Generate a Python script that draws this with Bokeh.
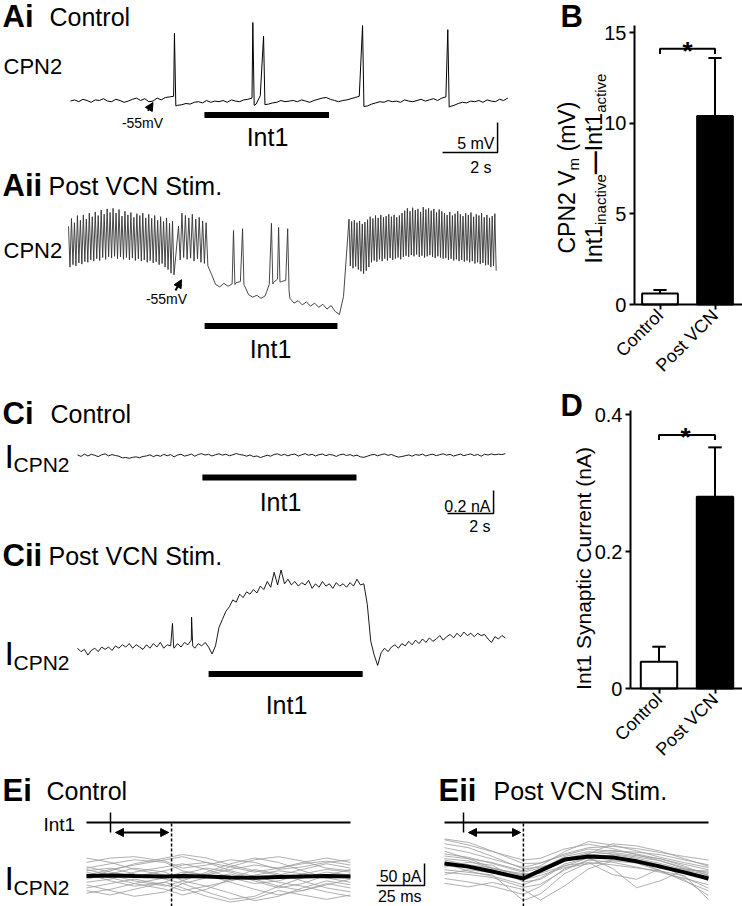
import numpy as np
from math import pi
from bokeh.plotting import figure
from bokeh.models import Range1d, LinearAxis, FixedTicker, Arrow, NormalHead, NumeralTickFormatter
from bokeh.core.properties import value
from bokeh.embed import file_html
from bokeh.resources import INLINE

# ======================= DATA =======================
# --- Ai: CPN2 membrane potential, control (mV), grid every 0.15 s
ai_t0, ai_dt = 0.0, 0.15
ai_base = [
    -55.1, -54.9, -55.2, -54.8, -55.0, -55.3, -54.9,
    -55.0, -54.7, -55.1, -55.2, -54.8, -55.0, -55.3, -55.1,
    -54.8, -54.6, -55.0, -54.7, -55.2,
    -55.1, -54.6, -54.9, -54.5, -54.4,
    -54.3,
    -55.8, -55.7, -55.5, -55.6, -55.3,
    -55.2, -55.4, -55.0, -55.3, -55.1, -55.2,
    -55.0, -55.3, -54.9, -55.1, -55.2, -54.9, -54.8,
    -54.6,
    -55.6, -54.2,
    -54.0,
    -55.6, -55.4, -55.3, -55.0, -55.2, -55.1,
    -55.0, -55.2, -54.9, -55.1, -55.3, -55.0, -54.8,
    -54.6, -54.5, -54.8, -55.0, -55.2, -55.0,
    -54.9, -54.7, -54.5, -54.3,
    -54.2,
    -55.9, -55.6, -55.4, -55.2, -55.3, -55.0,
    -55.2, -55.1, -55.3, -54.9, -55.1, -55.2, -55.0,
    -54.8, -55.1, -54.9, -54.7, -55.0, -54.6, -54.4,
    -56.0, -55.8, -55.5, -55.3, -55.4, -55.1,
    -55.2, -55.0, -55.3, -54.9, -55.1, -55.2, -54.8, -55.0, -54.6,
]
ai_spike_t = [3.78, 6.63, 7.02, 10.62, 13.72]
ai_spike_peak = [-43.8, -42.0, -44.3, -42.5, -43.2]
ai_spike_ahp = [-55.9, -55.8, -55.7, -56.0, -56.1]

# --- Aii: CPN2 membrane potential after VCN stimulation (mV)
aii_b1_span = (0.0, 3.89)
aii_b1_peaks = [-46.8, -45.5, -46.2, -45.0, -45.8, -44.9, -45.6, -44.6, -45.2, -44.4, -45.0, -44.1,
                -44.8, -43.9, -44.5, -43.8, -44.6, -44.0, -45.1, -44.3, -44.9, -44.5, -45.3, -44.7,
                -45.0, -44.6, -45.4, -44.8, -45.5, -45.0, -45.8, -45.2, -46.0, -45.4, -46.3, -45.9]
aii_b1_troughs = [-53.6, -53.2, -53.4, -52.9, -53.1, -52.7, -52.8, -52.4, -52.6, -52.2, -52.5, -52.0,
                  -52.3, -51.9, -52.1, -51.8, -52.2, -51.9, -52.3, -52.0, -52.4, -52.1, -52.5, -52.2,
                  -52.6, -52.4, -52.8, -52.5, -52.9, -52.7, -53.2, -53.0, -53.6, -54.0, -54.6, -54.9]
aii_b2_span = (4.0, 5.13)
aii_b2_peaks = [-46.8, -44.6, -45.0, -45.4, -44.8, -45.6, -45.3, -45.9, -46.2]
aii_b2_troughs = [-52.4, -52.0, -52.3, -52.1, -52.6, -52.2, -52.8, -53.0, -53.4]
aii_q_t0, aii_q_dt = 5.2, 0.15
aii_q_vals = [-54.8, -56.5, -56.9, -56.3, -56.8, -56.4, -56.2, -56.0, -56.7, -58.2, -58.6,
              -58.3, -58.8, -58.4, -56.5, -56.2, -55.6, -56.0, -55.8, -58.8, -59.6, -59.2,
              -59.9, -59.4, -60.1, -59.6, -60.3, -59.8, -60.6, -60.0, -61.0, -61.5, -58.5]
aii_q_spike_t = [6.0, 6.33, 7.38, 7.64, 7.97]
aii_q_spike_peak = [-47.5, -47.2, -46.3, -47.0, -47.2]
aii_q_spike_ahp = [-56.5, -56.6, -56.4, -56.1, -57.5]
aii_b3_span = (10.2, 15.6)
aii_b3_peaks = [-45.6, -46.0, -45.8, -46.2, -45.9, -46.4, -46.1, -45.7,
                -45.2, -45.5, -45.0, -45.4, -44.9, -45.3, -45.1, -44.8, -45.2, -44.9, -45.3, -45.0,
                -44.6, -44.2, -43.8, -44.3, -43.7, -44.1, -43.9, -44.4, -43.6, -44.0, -43.8, -44.2,
                -43.9, -44.5, -44.0, -44.3,
                -44.6, -44.9, -44.4, -45.0, -44.7, -44.3, -44.8, -45.1, -44.6, -44.9, -44.5, -45.2,
                -44.8, -45.0, -44.6, -45.3, -44.9, -45.4, -45.1, -44.7]
aii_b3_troughs = [-53.4, -53.8, -53.5, -54.0, -54.3, -54.7, -54.2, -53.6,
                  -52.8, -52.5, -52.7, -52.3, -52.6, -52.2, -52.5, -52.1, -52.4, -52.2, -52.0, -52.3,
                  -51.9, -51.7, -51.9, -51.6, -51.8, -51.5, -51.9, -51.7, -52.0, -51.8, -51.6, -51.9,
                  -52.1, -51.8, -52.0, -52.2,
                  -52.1, -52.4, -52.2, -52.5, -52.3, -52.6, -52.4, -52.7, -52.5, -52.8, -52.6, -53.0,
                  -52.8, -53.1, -52.9, -53.3, -53.2, -53.6, -53.4, -54.2]

# Int1 active periods (s)
int1_ai = (4.87, 9.40)
int1_aii = (4.95, 9.78)
int1_ci = (5.43, 12.13)
int1_cii = (5.70, 12.40)

# --- Ci: CPN2 current, control (nA), grid every 0.15 s
ci_t0, ci_dt = 0.0, 0.15
ci_vals = [0.005, -0.008, 0.012, -0.004, 0.010, 0.002, -0.010, 0.006, 0.014, -0.003, 0.008, 0.000,
           -0.006, -0.020, -0.018, -0.024, -0.016, -0.012, -0.019, -0.008, -0.004, 0.006, -0.010, 0.003,
           -0.007, 0.010, -0.002, 0.008, -0.012, 0.004, 0.011, -0.005, 0.002, 0.013, -0.006, 0.009,
           0.016, 0.004, 0.010, -0.004, 0.007, 0.015, 0.003, 0.011, -0.002, 0.006, 0.017, 0.008,
           0.004, -0.006, 0.005, -0.010, -0.004, -0.018, -0.008, 0.002, -0.006, 0.009, 0.014, 0.001,
           0.010, -0.003, 0.008, 0.012, -0.005, 0.006, 0.016, 0.002, 0.010, -0.004, 0.007, 0.013,
           -0.002, 0.009, 0.004, -0.008, 0.006, 0.012, 0.000, 0.008, -0.005, 0.003, -0.012, -0.016,
           -0.006, 0.004, 0.010, -0.003, 0.007, 0.014, 0.001, 0.009, -0.004, -0.014, -0.009, -0.002,
           0.005, -0.006, 0.008, 0.002, 0.012, -0.004, 0.006, 0.011, -0.001, 0.007, 0.015, 0.003,
           0.010, -0.005, 0.004, 0.012, -0.002, 0.008, 0.013, 0.000, 0.009, -0.006, 0.011, 0.004,
           0.014, 0.006, 0.012, 0.008, 0.016]

# --- Cii: CPN2 current after VCN stimulation (nA)
cii_t0, cii_dt = 0.0, 0.15
cii_vals = [0.02, -0.01, 0.01, -0.04, 0.00, 0.02, -0.01, 0.03, 0.01, 0.03, 0.00, 0.04,
            0.02, 0.05, 0.03, 0.06, 0.02, 0.05, 0.03, 0.01, 0.05, 0.02, 0.06, 0.03,
            0.07, 0.02, 0.05, 0.04, 0.02, 0.06, 0.03, 0.07, 0.05, 0.09, 0.02, 0.06,
            0.04, 0.07, 0.03, -0.03, 0.04, 0.20, 0.27, 0.34, 0.38, 0.44, 0.42, 0.49,
            0.46, 0.51, 0.49, 0.53, 0.50, 0.56, 0.53, 0.60, 0.55, 0.68, 0.57, 0.70,
            0.58, 0.62, 0.57, 0.60, 0.56, 0.59, 0.57, 0.61, 0.54, 0.58, 0.55, 0.60,
            0.56, 0.58, 0.54, 0.59, 0.56, 0.58, 0.55, 0.59, 0.56, 0.62, 0.57, 0.58,
            0.40, 0.08, -0.04, -0.13, -0.02, 0.02, -0.01, 0.03, 0.05, 0.02, 0.06, 0.04,
            0.08, 0.05, 0.09, 0.06, 0.10, 0.07, 0.11, 0.08, 0.10, 0.13, 0.09, 0.12,
            0.14, 0.11, 0.15, 0.12, 0.16, 0.13, 0.15, 0.12, 0.15, 0.13, 0.14, 0.10,
            0.07, 0.12, 0.10, 0.13, 0.11]
cii_spike_t = [4.13, 4.96]
cii_spike_peak = [0.235, 0.29]
cii_spike_after = [0.03, 0.04]

# --- B: CPN2 Vm difference (mV)
bar_groups = ["Control", "Post VCN"]
b_mean = [0.6, 10.4]
b_sem = [0.2, 3.2]
b_sig = 14.1
b_ticks = [0, 5, 10, 15]

# --- D: Int1 synaptic current (nA)
d_mean = [0.039, 0.28]
d_sem = [0.022, 0.072]
d_sig = 0.37
d_ticks = [0, 0.2, 0.4]

# --- E: Int1-spike-triggered sweeps (pA) at times (ms)
e_t = [0, 12.5, 25, 41, 50, 62.5, 75, 87.5, 100, 112.5, 125, 137.5]
ei_int1_t, ei_resp_t = 12.5, 44.3
eii_int1_t, eii_resp_t = 9.9, 41.1
ei_mean = [1, 2, 1, 0, 1, 0, -2, -3, -1, 0, 1, 0]
ei_sweeps = [
    [19, 29, 38, 32, 13, 3, 16, 26, 19, 29, 35, 26],
    [-13, -6, 10, 22, 29, 16, -3, -16, -10, 6, 16, 10],
    [32, 42, 45, 35, 19, 26, 38, 32, 16, 22, 32, 38],
    [-26, -16, -6, -19, -32, -22, -10, 3, 13, 6, -3, -13],
    [6, -10, -22, -13, 6, 19, 10, -6, -22, -32, -19, -6],
    [13, 19, 6, -6, -16, -35, -52, -45, -22, -3, 10, 3],
    [-38, -29, -16, -3, 10, 3, -13, -29, -42, -32, -16, -26],
    [22, 10, 0, 13, 26, 32, 22, 10, 19, 32, 42, 32],
    [-6, 6, 19, 10, -10, -22, -38, -55, -45, -26, -10, -19],
    [42, 32, 16, 3, -6, 6, 22, 38, 45, 35, 19, 13],
    [-19, -32, -45, -35, -16, -3, 6, -10, -26, -16, 3, 16],
    [3, 16, 26, 38, 45, 32, 13, 0, -13, -22, -35, -45],
    [-32, -42, -29, -13, -26, -45, -58, -50, -32, -42, -52, -42],
    [16, 3, -10, -22, -10, 10, 29, 42, 32, 13, -3, 6],
    [-3, 13, 29, 42, 50, 42, 26, 13, 3, 16, 29, 19],
    [10, -3, -16, -29, -42, -29, -6, 16, 6, -10, -26, -35],
]
eii_mean = [34, 27, 16, 0, 18, 43, 50, 48, 39, 27, 14, 0]
eii_sweeps = [
    [70, 59, 44, 25, 35, 56, 70, 73, 68, 59, 50, 42],
    [14, 9, 2, -20, -13, 19, 42, 37, 26, 14, 0, -14],
    [90, 82, 62, 34, 35, 53, 67, 62, 60, 54, 42, 31],
    [42, 31, 24, 6, 21, 50, 61, 56, 49, 40, 25, 11],
    [0, -8, -18, -36, -18, 22, 42, 51, 40, 17, -6, -28],
    [56, 48, 34, 14, 24, 45, 58, 64, 56, 44, 32, 20],
    [26, 37, 30, -8, -2, 30, 36, 9, -2, 23, 22, -6],
    [79, 70, 50, 22, 26, 39, 56, 79, 74, 62, 45, 28],
    [-11, -19, -9, -25, -49, -17, 22, 40, 35, 17, -3, -39],
    [51, 45, 36, 17, 29, 61, 84, 76, 63, 48, 36, 25],
    [34, 17, 5, -14, 1, 33, 47, 23, -21, -5, 20, 8],
    [88, 76, 61, 42, 46, 67, 78, 68, 54, 40, 22, 14],
    [9, 20, 13, -3, 7, 25, 33, 42, 43, 31, 3, -22],
    [62, 45, 24, 8, 15, 39, 53, 59, 52, 45, 28, 6],
    [20, 14, 8, -50, -35, 11, 36, 31, 24, 17, 6, -48],
    [45, 40, 22, 11, 12, 28, 47, 54, 46, 34, 20, 17],
]

# scale bars
sb_A = dict(t=15.53, v=-63.67, dt=2.0, dv=5.0)      # 2 s, 5 mV
sb_C = dict(t=18.09, v=-0.504, dt=2.0, dv=0.2)      # 2 s, 0.2 nA
sb_E = dict(t=-10.4, v=-15.9, dt=25.0, dv=50.0)     # 25 ms, 50 pA


# ======================= HELPERS =======================
def with_spikes(t0, dt, vals, spk_t, spk_peak, spk_after):
    pts = []
    for i, v in enumerate(vals):
        t = t0 + dt * i
        if any(s <= t <= s + 0.06 for s in spk_t):
            continue
        pts.append((t, v))
    for s, pk, af in zip(spk_t, spk_peak, spk_after):
        pts += [(s, pk), (s + 0.05, af)]
    pts.sort()
    return [q[0] for q in pts], [q[1] for q in pts]


def burst(span, peaks, troughs):
    t0, t1 = span
    isi = (t1 - t0) / len(peaks)
    ts, vs = [], []
    for k, (pk, tr) in enumerate(zip(peaks, troughs)):
        ts += [t0 + k * isi, t0 + (k + 0.5) * isi]
        vs += [pk, tr]
    return ts, vs


W, H = 742, 906
FONT = "Liberation Sans"


def xr(px0, ppu, v0=0.0):
    return Range1d(start=v0 - px0 / ppu, end=v0 + (W - px0) / ppu)


def yr(py0, ppu, v0=0.0):
    return Range1d(start=v0 - (H - py0) / ppu, end=v0 + py0 / ppu)


p = figure(width=W, height=H, x_range=Range1d(0, W), y_range=Range1d(H, 0),
           x_axis_type=None, y_axis_type=None, output_backend="svg",
           toolbar_location=None, min_border=0, outline_line_color=None,
           background_fill_color="white", border_fill_color="white")

p.extra_x_ranges = {
    "tA1": xr(70, 27.5), "tA2": xr(68, 27.5),
    "tC1": xr(77, 23.0), "tC2": xr(77, 23.0),
    "tE1": xr(86, 1.92), "tE2": xr(444, 1.92),
    "xB": xr(659.5, 55.0, 1.0), "xD": xr(658.5, 56.0, 1.0),
}
p.extra_y_ranges = {
    "vA1": yr(100, 6.0, -55.0), "vA2": yr(275, 6.0, -55.0),
    "iC1": yr(455, 115.0), "iC2": yr(650, 115.0),
    "pE1": yr(876, 0.44), "pE2": yr(878, 0.44),
    "yB": yr(304, 18.13), "yD": yr(688, 685.0),
}


def txt(x, y, s, size, bold=False, align="left", angle=0.0):
    # compensate the renderer's downward baseline drift of texts
    shift = 0.2 * size + 2
    if angle == 0:
        y = y - shift
    else:
        x = x - shift
    p.text(x=[x], y=[y], text=[s], text_font=value(FONT), text_font_size=f"{size}px",
           text_font_style="bold" if bold else "normal", text_align=align,
           text_baseline="alphabetic", angle=angle, text_color="black")


# ======================= PANEL A =======================
t, v = with_spikes(ai_t0, ai_dt, ai_base, ai_spike_t, ai_spike_peak, ai_spike_ahp)
p.line(t, v, x_range_name="tA1", y_range_name="vA1", line_color="black", line_width=1)

pts = []
for seg in (burst(aii_b1_span, aii_b1_peaks, aii_b1_troughs),
            burst(aii_b2_span, aii_b2_peaks, aii_b2_troughs),
            with_spikes(aii_q_t0, aii_q_dt, aii_q_vals, aii_q_spike_t, aii_q_spike_peak, aii_q_spike_ahp),
            burst(aii_b3_span, aii_b3_peaks, aii_b3_troughs)):
    pts += list(zip(*seg))
pts.sort()
p.line([q[0] for q in pts], [q[1] for q in pts], x_range_name="tA2", y_range_name="vA2",
       line_color="#333333", line_width=0.9)

# Int1 bars
p.segment(x0=[int1_ai[0]], x1=[int1_ai[1]], y0=[114.5], y1=[114.5], x_range_name="tA1",
          line_color="black", line_width=6, line_cap="butt")
p.segment(x0=[int1_aii[0]], x1=[int1_aii[1]], y0=[325.5], y1=[325.5], x_range_name="tA2",
          line_color="black", line_width=6, line_cap="butt")

# scale bar A
p.line([sb_A["t"] - sb_A["dt"], sb_A["t"], sb_A["t"]], [sb_A["v"], sb_A["v"], sb_A["v"] + sb_A["dv"]],
       x_range_name="tA1", y_range_name="vA1", line_color="black", line_width=1.5)

# -55 mV arrows
p.add_layout(Arrow(end=NormalHead(size=8, fill_color="black", line_color="black"),
                   x_start=2.82, y_start=-56.7, x_end=3.0, y_end=-55.35,
                   x_range_name="tA1", y_range_name="vA1", line_width=2))
p.add_layout(Arrow(end=NormalHead(size=8, fill_color="black", line_color="black"),
                   x_start=3.89, y_start=-57.5, x_end=4.11, y_end=-55.7,
                   x_range_name="tA2", y_range_name="vA2", line_width=2))

txt(2, 24, "Ai", 31, bold=True)
txt(49, 23, "Control", 25)
txt(3, 72, "CPN2", 22)
txt(142, 127, "-55mV", 14, align="center")
txt(267, 143, "Int1", 25, align="center")
txt(494, 148, "5 mV", 16, align="right")
txt(491, 172, "2 s", 16, align="right")

txt(2, 193, "Aii", 31, bold=True)
txt(48, 192, "Post VCN Stim.", 25)
txt(3, 256, "CPN2", 22)
txt(166, 303, "-55mV", 14, align="center")
txt(270, 355, "Int1", 25, align="center")

# ======================= PANEL C =======================
ct = [ci_t0 + ci_dt * i for i in range(len(ci_vals))]
p.line(ct, ci_vals, x_range_name="tC1", y_range_name="iC1", line_color="black", line_width=0.9)
t, v = with_spikes(cii_t0, cii_dt, cii_vals, cii_spike_t, cii_spike_peak, cii_spike_after)
p.line(t, v, x_range_name="tC2", y_range_name="iC2", line_color="black", line_width=0.9)

p.segment(x0=[int1_ci[0]], x1=[int1_ci[1]], y0=[477], y1=[477], x_range_name="tC1",
          line_color="black", line_width=6, line_cap="butt")
p.segment(x0=[int1_cii[0]], x1=[int1_cii[1]], y0=[673.5], y1=[673.5], x_range_name="tC2",
          line_color="black", line_width=6, line_cap="butt")

p.line([sb_C["t"] - sb_C["dt"], sb_C["t"], sb_C["t"]], [sb_C["v"], sb_C["v"], sb_C["v"] + sb_C["dv"]],
       x_range_name="tC1", y_range_name="iC1", line_color="black", line_width=1.5)

txt(2, 421, "Ci", 31, bold=True)
txt(50, 420, "Control", 25)
txt(4, 464, "I", 34)
txt(13, 470, "CPN2", 21)
txt(280, 508, "Int1", 25, align="center")
txt(490, 511, "0.2 nA", 16, align="right")
txt(490, 531, "2 s", 16, align="right")

txt(2, 563, "Cii", 31, bold=True)
txt(48, 562, "Post VCN Stim.", 25)
txt(4, 661, "I", 34)
txt(13, 668, "CPN2", 21)
txt(286, 711, "Int1", 25, align="center")

# ======================= PANELS B & D =======================
bx = [1, 2]
fills = ["white", "black"]
for key, mean, sem, sig, ticks, axloc, top, fmt in (
        ("B", b_mean, b_sem, b_sig, b_ticks, 0.536, 15.4, None),
        ("D", d_mean, d_sem, d_sig, d_ticks, 0.49, 0.406, NumeralTickFormatter(format="0.[0]"))):
    xn, yn = "x" + key, "y" + key
    p.vbar(x=bx, top=mean, bottom=0, width=0.65, fill_color=fills, line_color="black",
           line_width=2, x_range_name=xn, y_range_name=yn)
    tops = [m + s for m, s in zip(mean, sem)]
    p.segment(x0=bx, x1=bx, y0=mean, y1=tops, x_range_name=xn, y_range_name=yn,
              line_color="black", line_width=2)
    p.segment(x0=[b - 0.12 for b in bx], x1=[b + 0.12 for b in bx], y0=tops, y1=tops,
              x_range_name=xn, y_range_name=yn, line_color="black", line_width=2)
    drop = sig * 0.02
    p.line([1, 1, 2, 2], [sig - drop, sig, sig, sig - drop], x_range_name=xn, y_range_name=yn,
           line_color="black", line_width=2)
    yax = LinearAxis(x_range_name=xn, y_range_name=yn, fixed_location=axloc, bounds=(0, top),
                     ticker=FixedTicker(ticks=ticks))
    if fmt is not None:
        yax.formatter = fmt
    xax = LinearAxis(x_range_name=xn, y_range_name=yn, fixed_location=0, bounds=(axloc, 2.5),
                     ticker=FixedTicker(ticks=bx),
                     major_label_overrides={1: bar_groups[0], 2: bar_groups[1]},
                     major_label_orientation=pi / 4)
    for ax, fs in ((yax, "20px"), (xax, "18px")):
        ax.axis_line_width = 2
        ax.major_tick_line_width = 2
        ax.major_tick_out = 5
        ax.major_tick_in = 0
        ax.minor_tick_line_color = None
        ax.major_label_text_font = FONT
        ax.major_label_text_font_size = fs
        ax.major_label_text_color = "black"
        ax.major_label_standoff = 3
    p.add_layout(yax, "left")
    p.add_layout(xax, "below")

txt(687, 58, "*", 26, bold=True, align="center")
txt(685, 444, "*", 26, bold=True, align="center")
txt(560, 24, "B", 31, bold=True)
txt(560, 413, "D", 31, bold=True)

# B y-label (rotated, built from pieces with subscripts)
A90 = pi / 2
txt(573, 253, "CPN2 V", 23, angle=A90)
txt(578, 169.9, "m", 15, angle=A90)
txt(573, 151.0, "(mV)", 23, angle=A90)
txt(600, 263, "Int1", 23, angle=A90)
txt(605, 224.6, "inactive", 15, angle=A90)
txt(600, 173.7, "\u2014", 23, bold=True, angle=A90)
txt(600, 150.7, "Int1", 23, angle=A90)
txt(605, 112.3, "active", 15, angle=A90)
# D y-label
txt(589, 568, "Int1 Synaptic Current (nA)", 21, align="center", angle=A90)

# ======================= PANEL E =======================
for sw, mn, tn, pn, t_int1, t_resp in ((ei_sweeps, ei_mean, "tE1", "pE1", ei_int1_t, ei_resp_t),
                                        (eii_sweeps, eii_mean, "tE2", "pE2", eii_int1_t, eii_resp_t)):
    p.multi_line(xs=[e_t] * len(sw), ys=sw, x_range_name=tn, y_range_name=pn,
                 line_color="#9a9a9a", line_width=0.8)
    p.line(e_t, mn, x_range_name=tn, y_range_name=pn, line_color="black", line_width=4)
    p.segment(x0=[e_t[0]], x1=[e_t[-1]], y0=[822], y1=[822], x_range_name=tn,
              line_color="black", line_width=2)
    p.segment(x0=[t_int1], x1=[t_int1], y0=[812], y1=[832], x_range_name=tn,
              line_color="black", line_width=1.5)
    p.segment(x0=[t_resp], x1=[t_resp], y0=[823], y1=[906], x_range_name=tn,
              line_color="black", line_width=1.5, line_dash="3 2")
    p.add_layout(Arrow(start=NormalHead(size=8, fill_color="black", line_color="black"),
                       end=NormalHead(size=8, fill_color="black", line_color="black"),
                       x_start=t_int1 + 2.6, y_start=832, x_end=t_resp - 1.5, y_end=832,
                       x_range_name=tn, line_width=2))

p.line([sb_E["t"] - sb_E["dt"], sb_E["t"], sb_E["t"]], [sb_E["v"], sb_E["v"], sb_E["v"] + sb_E["dv"]],
       x_range_name="tE2", y_range_name="pE2", line_color="black", line_width=1.5)

txt(2, 798, "Ei", 31, bold=True)
txt(46, 797, "Control", 25)
txt(43, 830, "Int1", 19)
txt(4, 886, "I", 34)
txt(13, 893, "CPN2", 21)
txt(438, 798, "Eii", 31, bold=True)
txt(493, 797, "Post VCN Stim.", 25)
txt(421, 881, "50 pA", 16, align="right")
txt(421, 901, "25 ms", 16, align="right")

open("out.html", "w").write(file_html(p, INLINE))
